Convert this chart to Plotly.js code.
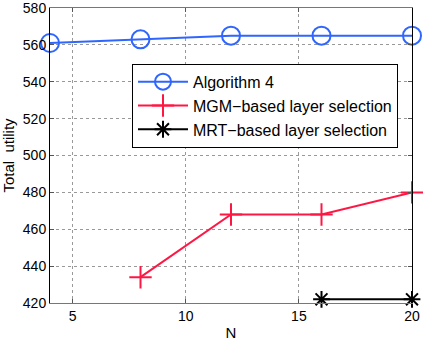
<!DOCTYPE html>
<html>
<head>
<meta charset="utf-8">
<script src="https://cdn.plot.ly/plotly-3.0.1.min.js"></script>
<style>
  html, body { margin: 0; padding: 0; background: #fff; }
  #plot { width: 423px; height: 341px; }
</style>
</head>
<body>
<div id="plot"></div>
<script>
    // values
    var nAlg = [4, 8, 12, 16, 20];
    var utilAlg = [561, 563, 565, 565, 565];

    var nMgm = [8, 12, 16, 20];
    var utilMgm = [434, 468, 468, 480];

    var nMrt = [16, 20];
    var utilMrt = [422, 422];

    var xTicks = [5, 10, 15, 20];
    var yTicks = [420, 440, 460, 480, 500, 520, 540, 560, 580];

    var traces = [
        {
            name: 'Algorithm 4', x: nAlg, y: utilAlg, type: 'scatter', mode: 'lines+markers',
            line: { color: '#2f66ff', width: 2 },
            marker: { symbol: 'circle-open', size: 18, color: '#2f66ff', line: { width: 2 } },
            cliponaxis: false
        },
        {
            name: 'MGM\u2212based layer selection', x: nMgm, y: utilMgm, type: 'scatter', mode: 'lines+markers',
            line: { color: '#ff1744', width: 2 },
            marker: { symbol: 'cross-thin-open', size: 16, color: '#ff1744', line: { width: 2, color: '#ff1744' } },
            cliponaxis: false
        },
        {
            name: 'MRT\u2212based layer selection', x: nMrt, y: utilMrt, type: 'scatter', mode: 'lines+markers',
            line: { color: '#000', width: 2 },
            marker: { symbol: 'asterisk-open', size: 14, color: '#000', line: { width: 2, color: '#000' } },
            cliponaxis: false
        }
    ];

    var layout = {
        width: 423,
        height: 341,
        margin: { l: 50, r: 11, t: 8, b: 38 },
        paper_bgcolor: '#fff',
        plot_bgcolor: '#fff',
        font: { family: 'Liberation Sans, Arial, sans-serif', size: 14, color: '#000' },
        showlegend: true,
        legend: {
            x: 0.2265, y: 0.811, xanchor: 'left', yanchor: 'top',
            bgcolor: '#fff', bordercolor: '#000', borderwidth: 1,
            font: { size: 16 }, tracegroupgap: 0, itemwidth: 50
        },
        xaxis: {
            title: { text: 'N', font: { size: 15 }, standoff: 4 },
            range: [4, 20],
            tickvals: xTicks,
            ticks: 'inside', ticklen: 4, tickcolor: '#555',
            showline: true, linecolor: '#777', linewidth: 1, mirror: 'ticks',
            showgrid: true, gridcolor: '#999', griddash: 'dot', gridwidth: 1,
            zeroline: false, ticklabeloverflow: 'allow'
        },
        yaxis: {
            title: { text: 'Total  utility', font: { size: 15 }, standoff: 6 },
            range: [420, 580],
            tickvals: yTicks,
            ticks: 'inside', ticklen: 4, tickcolor: '#555',
            showline: true, linecolor: '#000', linewidth: 1, mirror: 'ticks',
            showgrid: true, gridcolor: '#999', griddash: 'dot', gridwidth: 1,
            zeroline: false, ticklabeloverflow: 'allow'
        }
    };

    Plotly.newPlot('plot', traces, layout, { staticPlot: true });
</script>
</body>
</html>
